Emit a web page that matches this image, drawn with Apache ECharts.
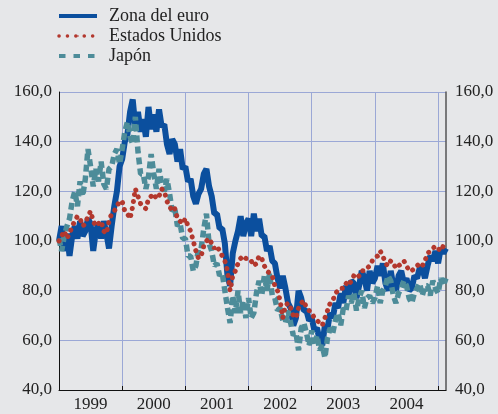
<!DOCTYPE html>
<html>
<head>
<meta charset="utf-8">
<script src="https://cdn.jsdelivr.net/npm/echarts@6/dist/echarts.min.js"></script>
<style>
  html, body { margin: 0; padding: 0; background: #e6e7e9; }
  #chart { width: 498px; height: 414px; }
</style>
</head>
<body>
<div id="chart"></div>
<script>
// half-month points, Jan 1999 .. Feb 2005
var categories = [];
for (var k = 0; k < 148; k++) {
    var yr = 1999 + Math.floor(k / 24);
    var mo = Math.floor((k % 24) / 2) + 1;
    categories.push(yr + '-' + (mo < 10 ? '0' + mo : mo) + (k % 2 ? '-16' : '-01'));
}

var seriesNames = ['Zona del euro', 'Estados Unidos', 'Japón'];

var euro = [
    100, 106, 96, 103, 94, 102, 106, 101, 108, 102, 104, 109, 107, 96, 104, 107, 101, 108, 103, 97, 106, 114, 120, 130,
    133, 140, 143, 152, 157, 146, 152, 144, 149, 142, 154, 145, 151, 144, 153, 146, 147, 139, 135, 141, 139, 132, 137, 129,
    130, 124, 125, 118, 115, 119, 121, 127, 129, 122, 118, 111, 111, 105, 105, 99, 86, 82, 95, 100, 104, 110, 102, 107,
    109, 102, 111, 104, 109, 102, 102, 96, 98, 92, 91, 85, 81, 86, 81, 75, 73, 66, 69, 80, 77, 72, 72, 68,
    69, 64, 65, 60, 58, 66, 65, 71, 69, 75, 73, 79, 75, 82, 78, 84, 83, 77, 82, 88, 85, 80, 88, 83,
    85, 90, 86, 91, 83, 80, 88, 82, 80, 86, 88, 83, 85, 80, 81, 86, 85, 89, 89, 85, 90, 94, 92, 96,
    91, 97, 95, 97
];

var eeuu = [
    100, 102, 104, 101, 103, 106, 108, 110, 109, 106, 107, 110, 112, 108, 106, 107, 108, 104, 103, 108, 111, 112, 114, 116,
    116, 112, 111, 109, 114, 121, 118, 115, 114, 113, 117, 118, 119, 117, 118, 121, 120, 116, 114, 112, 113, 109, 108, 107,
    109, 106, 104, 100, 96, 93, 94, 98, 100, 101, 99, 97, 98, 96, 94, 92, 88, 80, 86, 88, 91, 93, 94, 93,
    93, 92, 90, 91, 94, 93, 90, 88, 87, 86, 82, 80, 76, 69, 74, 75, 73, 70, 69, 73, 75, 76, 73, 72,
    71, 69, 68, 67, 66, 69, 72, 75, 76, 79, 80, 81, 81, 83, 82, 84, 86, 85, 86, 88, 88, 89, 90, 92,
    93, 94, 96, 94, 91, 90, 92, 91, 89, 90, 91, 92, 90, 88, 88, 89, 90, 91, 90, 92, 95, 96, 97, 98,
    97, 96, 98, 97
];

var japon = [
    101, 96, 102, 106, 109, 116, 120, 114, 124, 118, 125, 137, 130, 122, 129, 124, 132, 123, 121, 129, 130, 135, 137, 131,
    137, 144, 148, 142, 139, 150, 136, 127, 127, 121, 126, 135, 127, 121, 129, 123, 120, 125, 119, 112, 113, 106, 107, 101,
    101, 94, 94, 88, 90, 97, 97, 105, 111, 99, 96, 90, 91, 86, 87, 80, 73, 67, 78, 71, 80, 71, 76, 69,
    77, 69, 71, 79, 84, 78, 86, 80, 87, 78, 77, 72, 73, 68, 67, 72, 67, 62, 63, 56, 65, 67, 63, 58,
    64, 58, 62, 56, 58, 53, 61, 65, 63, 68, 71, 66, 73, 72, 78, 75, 79, 72, 77, 80, 73, 77, 78, 75,
    77, 82, 75, 80, 82, 86, 84, 78, 75, 79, 81, 84, 82, 77, 75, 79, 81, 83, 78, 82, 82, 78, 84, 81,
    79, 85, 82, 85
];

var chart = echarts.init(document.getElementById('chart'));

var serifFont = '"Liberation Serif", "DejaVu Serif", serif';
var gridColor = '#9ba8d6';
var colEuro = '#0b4f9e';
var colUS = '#b3382e';
var colJp = '#4d8c99';

function yLabel(v) {
    return v.toFixed(1).replace('.', ',');
}

var option = {
    backgroundColor: '#e6e7e9',
    animation: false,
    legend: {
        orient: 'vertical',
        left: 52,
        top: 2,
        itemWidth: 38,
        itemHeight: 2,
        itemGap: 2,
        data: [
            { name: seriesNames[0], lineStyle: { width: 4, color: colEuro } },
            { name: seriesNames[1], lineStyle: { width: 3.5, color: colUS, type: [0.1, 8.3], cap: 'round' } },
            { name: seriesNames[2], lineStyle: { width: 4, color: colJp, type: [6.5, 8] } }
        ],
        textStyle: {
            fontFamily: serifFont,
            fontSize: 18,
            color: '#222',
            padding: [0, 0, 0, 7]
        }
    },
    grid: {
        left: 59,
        right: 52,
        top: 92,
        bottom: 24
    },
    xAxis: {
        type: 'category',
        data: categories,
        boundaryGap: false,
        axisLine: { lineStyle: { color: '#111', width: 1 } },
        axisTick: {
            inside: true,
            length: 4,
            interval: function (index) { return index % 24 === 0; },
            lineStyle: { color: '#111' }
        },
        axisLabel: {
            interval: function (index) { return index % 24 === 12; },
            formatter: function (v) { return v.slice(0, 4); },
            margin: 6,
            fontFamily: serifFont,
            fontSize: 17,
            color: '#222'
        },
        splitLine: {
            show: true,
            interval: function (index) { return index % 24 === 0 && index > 0; },
            lineStyle: { color: gridColor, width: 1 }
        }
    },
    yAxis: [{
        type: 'value',
        min: 40,
        max: 160,
        interval: 20,
        axisLine: { show: true, lineStyle: { color: '#111', width: 1 } },
        axisTick: { show: false },
        axisLabel: {
            formatter: yLabel,
            margin: 7,
            fontFamily: serifFont,
            fontSize: 17,
            color: '#222'
        },
        splitLine: { show: true, lineStyle: { color: gridColor, width: 1 } }
    }, {
        type: 'value',
        position: 'right',
        min: 40,
        max: 160,
        interval: 20,
        axisLine: { show: true, lineStyle: { color: '#555', width: 1.5 } },
        axisTick: { show: false },
        axisLabel: {
            formatter: yLabel,
            margin: 9,
            fontFamily: serifFont,
            fontSize: 17,
            color: '#222'
        },
        splitLine: { show: false }
    }],
    series: [{
        name: seriesNames[0],
        type: 'line',
        data: euro,
        symbol: 'none',
        color: colEuro,
        lineStyle: { color: colEuro, width: 6 },
        z: 2
    }, {
        name: seriesNames[2],
        type: 'line',
        data: japon,
        symbol: 'none',
        color: colJp,
        lineStyle: { color: colJp, width: 5.5, type: [7, 4] },
        z: 3
    }, {
        name: seriesNames[1],
        type: 'line',
        data: eeuu,
        symbol: 'none',
        color: colUS,
        lineStyle: { color: colUS, width: 5, type: [0.1, 7], cap: 'round' },
        z: 4
    }]
};

chart.setOption(option);
</script>
</body>
</html>
